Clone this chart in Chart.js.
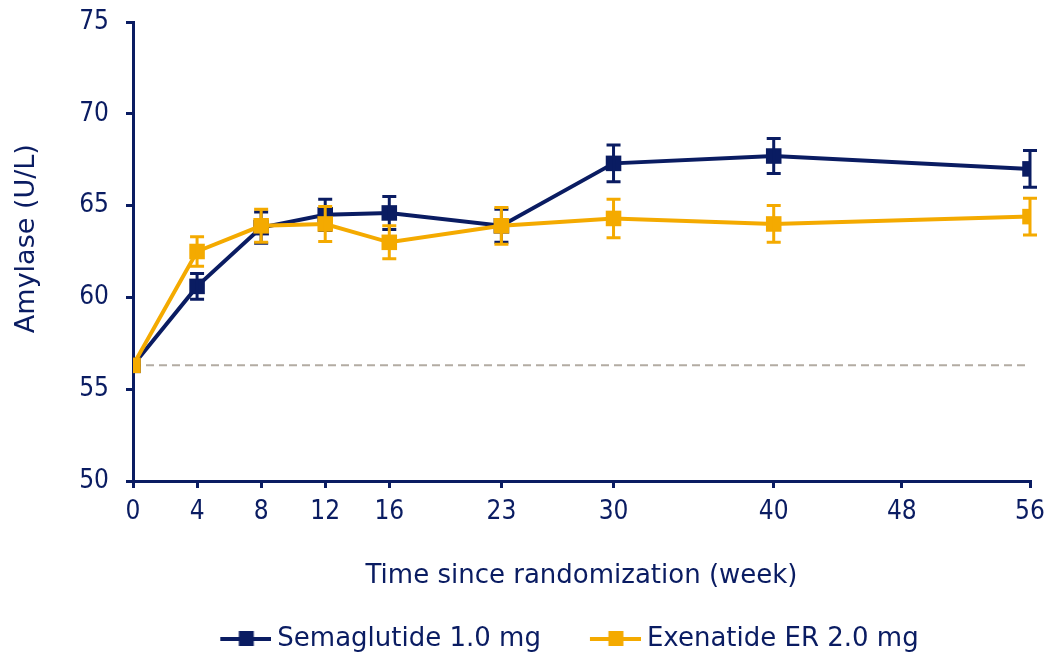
<!DOCTYPE html>
<html>
<head>
<meta charset="utf-8">
<script src="https://cdn.jsdelivr.net/npm/chart.js@4.4.1/dist/chart.umd.min.js"></script>
<style>
  html, body { margin: 0; padding: 0; background: #fff; }
  #wrap { width: 1047px; height: 653px; position: relative; }
</style>
</head>
<body>
<div id="wrap"><canvas id="amylase"></canvas></div>
<script>
// weeks where values were measured
const weeks = [0, 4, 8, 12, 16, 23, 30, 40, 56];
const xTickWeeks = [0, 4, 8, 12, 16, 23, 30, 40, 48, 56];
const yTickValues = [50, 55, 60, 65, 70, 75];

// Semaglutide 1.0 mg, mean and error
const semaMean = [56.3, 60.6, 63.8, 64.5, 64.6, 63.9, 67.3, 67.7, 67.0];
const semaErr = [0, 0.7, 0.85, 0.85, 0.9, 0.9, 1.0, 0.95, 1.0];

// Exenatide ER 2.0 mg, mean and error
const exenMean = [56.3, 62.5, 63.9, 64.0, 63.0, 63.9, 64.3, 64.0, 64.4];
const exenErr = [0, 0.8, 0.9, 0.95, 0.9, 1.0, 1.05, 1.0, 1.0];

const baseline = 56.3;

const NAVY = '#0a1c62';
const GOLD = '#f4aa00';
const FONT = "'DejaVu Sans', Verdana, sans-serif";
const FONT_NARROW = "'DejaVu Sans Condensed', 'DejaVu Sans', sans-serif";
const PAD_BOTTOM = -9;
const LEGEND_BOX = 83;
const LEGEND_SHIFT = 35;

// legend symbol: short line with a square, sitting at the right of the box
function legendIcon(color) {
  const c = document.createElement('canvas');
  c.width = LEGEND_BOX + 14; c.height = 16;
  const g = c.getContext('2d');
  const x0 = LEGEND_BOX - 37, x1 = LEGEND_BOX + 14;
  g.strokeStyle = color;
  g.lineWidth = 4;
  g.beginPath(); g.moveTo(x0, 8); g.lineTo(x1, 8); g.stroke();
  g.fillStyle = color;
  g.fillRect((x0 + x1) / 2 - 7, 0, 15, 15);
  return c;
}

const errorBars = {
  id: 'errorBars',
  afterDatasetDraw(chart, args) {
    const ds = chart.data.datasets[args.index];
    if (!ds.errors) return;
    const {ctx} = chart;
    const y = chart.scales.y;
    ctx.save();
    ctx.strokeStyle = ds.borderColor;
    ctx.lineWidth = 3;
    args.meta.data.forEach((pt, i) => {
      const e = ds.errors[i];
      if (!e) return;
      const x = pt.x;
      const top = y.getPixelForValue(ds.data[i].y + e);
      const bot = y.getPixelForValue(ds.data[i].y - e);
      ctx.beginPath();
      ctx.moveTo(x, top); ctx.lineTo(x, bot);
      ctx.moveTo(x - 7, top); ctx.lineTo(x + 7, top);
      ctx.moveTo(x - 7, bot); ctx.lineTo(x + 7, bot);
      ctx.stroke();
    });
    ctx.restore();
  }
};

const baselineLine = {
  id: 'baselineLine',
  beforeDatasetsDraw(chart) {
    const {ctx, chartArea} = chart;
    const yy = chart.scales.y.getPixelForValue(baseline);
    ctx.save();
    ctx.strokeStyle = '#b3aca3';
    ctx.lineWidth = 2;
    ctx.setLineDash([8, 5]);
    ctx.beginPath();
    ctx.moveTo(chartArea.left, yy);
    ctx.lineTo(chartArea.right, yy);
    ctx.stroke();
    ctx.restore();
  }
};

// nudge the legend to the right like in the original figure
const legendNudge = {
  id: 'legendNudge',
  afterLayout(chart) {
    chart.legend.left += LEGEND_SHIFT;
    chart.legend.right += LEGEND_SHIFT;
  }
};

function series(means) {
  return weeks.map((w, i) => ({x: w, y: means[i]}));
}

new Chart(document.getElementById('amylase'), {
  type: 'line',
  data: {
    datasets: [
      {
        label: 'Semaglutide 1.0 mg',
        data: series(semaMean),
        errors: semaErr,
        borderColor: NAVY,
        backgroundColor: NAVY,
        borderWidth: 4,
        pointStyle: 'rect',
        pointRadius: 11,
        pointBorderWidth: 0,
        tension: 0,
        order: 2
      },
      {
        label: 'Exenatide ER 2.0 mg',
        data: series(exenMean),
        errors: exenErr,
        borderColor: GOLD,
        backgroundColor: GOLD,
        borderWidth: 4,
        pointStyle: 'rect',
        pointRadius: 11,
        pointBorderWidth: 0,
        tension: 0,
        order: 1
      }
    ]
  },
  options: {
    responsive: true,
    maintainAspectRatio: false,
    animation: false,
    layout: { padding: { top: 22, right: 17, left: 0, bottom: PAD_BOTTOM } },
    plugins: {
      tooltip: { enabled: false },
      legend: {
        position: 'bottom',
        labels: {
          color: NAVY,
          font: { family: FONT, size: 26 },
          usePointStyle: true,
          pointStyleWidth: LEGEND_BOX,
          padding: 10,
          generateLabels(chart) {
            return chart.data.datasets.map((ds, i) => ({
              text: ds.label,
              pointStyle: legendIcon(ds.borderColor),
              fillStyle: ds.borderColor,
              strokeStyle: ds.borderColor,
              fontColor: NAVY,
              lineWidth: 0,
              hidden: false,
              datasetIndex: i
            }));
          }
        }
      }
    },
    scales: {
      x: {
        type: 'linear',
        min: 0,
        max: 56,
        afterBuildTicks(scale) {
          scale.ticks = xTickWeeks.map(v => ({value: v}));
        },
        afterFit(scale) {
          scale.height = 653 - 481 - scale.chart.legend.height - PAD_BOTTOM;
          scale.paddingLeft = 0;
          scale.paddingRight = 0;
        },
        border: { color: NAVY, width: 3 },
        grid: { drawOnChartArea: false, drawTicks: true, tickLength: 7, color: NAVY, lineWidth: 3 },
        ticks: { color: NAVY, font: { family: FONT_NARROW, size: 26 }, padding: 9, autoSkip: false, maxRotation: 0 },
        title: {
          display: true,
          text: 'Time since randomization (week)',
          color: NAVY,
          font: { family: FONT, size: 26 },
          padding: { top: 0, bottom: 24 }
        }
      },
      y: {
        min: 50,
        max: 75,
        afterBuildTicks(scale) {
          scale.ticks = yTickValues.map(v => ({value: v}));
        },
        afterFit(scale) {
          scale.width = 133;
          scale.paddingTop = 0;
          scale.paddingBottom = 0;
        },
        border: { color: NAVY, width: 3 },
        grid: { drawOnChartArea: false, drawTicks: true, tickLength: 7, color: NAVY, lineWidth: 3 },
        ticks: { color: NAVY, font: { family: FONT_NARROW, size: 26 }, padding: 17 },
        title: {
          display: true,
          text: '   Amylase (U/L)',
          color: NAVY,
          font: { family: FONT, size: 27 },
          padding: { top: 11, bottom: 0 }
        }
      }
    }
  },
  plugins: [baselineLine, errorBars, legendNudge]
});
</script>
</body>
</html>
